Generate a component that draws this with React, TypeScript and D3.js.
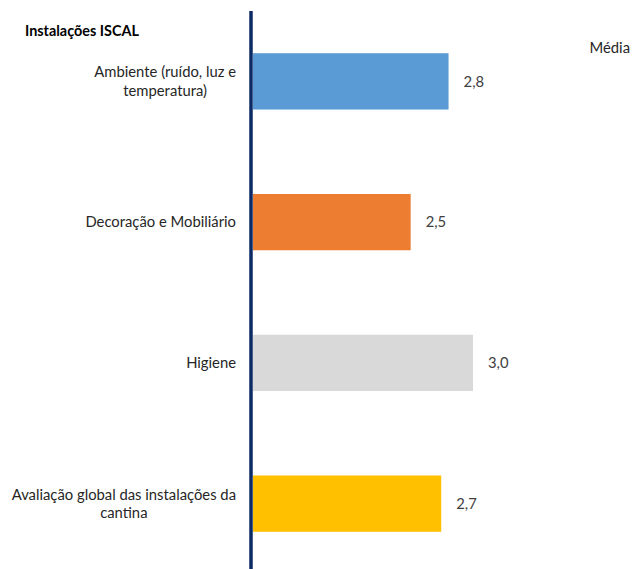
import React from "react";
import * as d3 from "d3";

const title = "Instalações ISCAL";
const seriesName = "Média";
const categories = [
  "Ambiente (ruído, luz e temperatura)",
  "Decoração e Mobiliário",
  "Higiene",
  "Avaliação global das instalações da cantina",
];
const values = [2.8, 2.49, 3.0, 2.74];
const colors = ["#5B9BD5", "#ED7D31", "#D9D9D9", "#FFC000"];

const W = 635;
const H = 569;
const FONT = "Lato, 'Open Sans', sans-serif";
const FS = 14.8;

function measure(text: string): number {
  const c = document.createElement("canvas").getContext("2d");
  if (!c) return text.length * FS * 0.5;
  c.font = `${FS}px Lato`;
  return c.measureText(text).width;
}

function wrap(text: string, maxW: number): string[] {
  const words = text.split(" ");
  const lines: string[] = [];
  let cur = "";
  for (const w of words) {
    const t = cur ? cur + " " + w : w;
    if (cur && measure(t) > maxW) {
      lines.push(cur);
      cur = w;
    } else cur = t;
  }
  if (cur) lines.push(cur);
  return lines;
}

export default function App() {
  const y = d3
    .scaleBand<string>()
    .domain(categories)
    .range([11, 574])
    .paddingInner(0.6)
    .paddingOuter(0.3);
  const x = d3.scaleLinear().domain([1.2, 3.0]).range([253, 473]);
  const fmt = (v: number) => d3.format(".1f")(v).replace(".", ",");
  const lineH = 18.5;
  const labelRight = 236;

  return (
    <svg
      width={W}
      height={H}
      style={{ position: "absolute", left: 0, top: 0, fontFamily: FONT }}
    >
      <rect width={W} height={H} fill="#fff" />
      <text x={25} y={31} dy="0.35em" fontSize={14.4} fontWeight="bold" fill="#000">
        {title}
      </text>
      <text x={630} y={48} dy="0.35em" fontSize={FS} textAnchor="end" fill="#262626">
        {seriesName}
      </text>
      {categories.map((cat, i) => {
        const cy = (y(cat) as number) + y.bandwidth() / 2;
        const lines = wrap(cat, 226);
        const blockW = d3.max(lines, (l) => measure(l)) || 0;
        const cx = labelRight - blockW / 2;
        const y0 = cy - ((lines.length - 1) * lineH) / 2;
        return (
          <g key={cat}>
            <rect
              x={x(1.2)}
              y={y(cat)}
              width={x(values[i]) - x(1.2)}
              height={y.bandwidth()}
              fill={colors[i]}
            />
            <text x={x(values[i]) + 15} y={cy} dy="0.35em" fontSize={FS} fill="#404040">
              {fmt(values[i])}
            </text>
            {lines.map((l, j) => (
              <text
                key={j}
                x={cx}
                y={y0 + j * lineH}
                dy="0.35em"
                fontSize={FS}
                textAnchor="middle"
                fill="#262626"
              >
                {l}
              </text>
            ))}
          </g>
        );
      })}
      <line x1={251} x2={251} y1={11} y2={H} stroke="#0B2A66" strokeWidth={3.5} />
    </svg>
  );
}
